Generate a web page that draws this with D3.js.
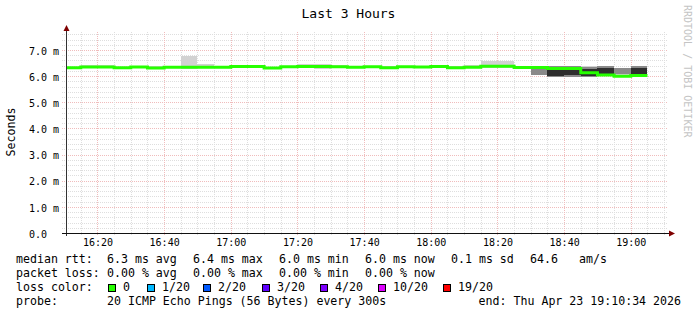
<!DOCTYPE html>
<html>
<head>
<meta charset="utf-8">
<script src="https://cdn.jsdelivr.net/npm/d3@7"></script>
<style>
  body { margin: 0; background: #fff; }
  svg { display: block; }
  text { font-family: "DejaVu Sans Mono", monospace; fill: #000; white-space: pre; }
</style>
</head>
<body>
<svg id="chart" width="697" height="315"></svg>
<script>
// 5-minute bins (bin start, local time)
const binStarts = ["16:10","16:15","16:20","16:25","16:30","16:35","16:40","16:45","16:50","16:55",
  "17:00","17:05","17:10","17:15","17:20","17:25","17:30","17:35","17:40","17:45",
  "17:50","17:55","18:00","18:05","18:10","18:15","18:20","18:25","18:30","18:35",
  "18:40","18:45","18:50","18:55","19:00"];

// median rtt (ms)
const medianMs = [6.32,6.35,6.35,6.32,6.35,6.31,6.34,6.34,6.34,6.34,
  6.37,6.37,6.31,6.36,6.37,6.37,6.36,6.34,6.36,6.32,
  6.36,6.35,6.37,6.32,6.34,6.38,6.38,6.33,6.33,6.29,
  6.29,6.13,6.04,6.00,6.02];

// smoke: full spread of the 20 pings (ms)
const smokeMinMs = [6.29,6.32,6.32,6.29,6.30,6.28,6.30,6.28,6.31,6.31,
  6.33,6.33,6.28,6.31,6.33,6.28,6.32,6.30,6.32,6.29,
  6.32,6.31,6.33,6.29,6.30,6.33,6.33,6.30,6.04,5.96,
  5.97,5.95,6.04,6.06,6.04];
const smokeMaxMs = [6.36,6.43,6.42,6.36,6.38,6.40,6.37,6.78,6.47,6.37,
  6.42,6.42,6.35,6.40,6.48,6.48,6.42,6.37,6.39,6.40,
  6.39,6.40,6.40,6.40,6.42,6.58,6.58,6.36,6.40,6.39,
  6.39,6.37,6.39,6.33,6.39];
// middle part of the spread
const smokeLoMs = [6.30,6.33,6.33,6.30,6.33,6.29,6.32,6.31,6.32,6.32,
  6.35,6.35,6.29,6.34,6.35,6.33,6.34,6.32,6.34,6.30,
  6.34,6.33,6.35,6.30,6.32,6.35,6.35,6.31,6.05,5.97,
  5.98,5.96,6.05,6.08,6.05];
const smokeHiMs = [6.34,6.37,6.37,6.34,6.37,6.33,6.36,6.40,6.37,6.36,
  6.39,6.39,6.33,6.38,6.40,6.40,6.38,6.36,6.38,6.35,
  6.38,6.37,6.39,6.35,6.37,6.44,6.44,6.35,6.31,6.38,
  6.38,6.36,6.38,6.31,6.38];
// core of the spread
const coreLoMs = [6.31,6.34,6.34,6.31,6.34,6.30,6.33,6.32,6.33,6.33,
  6.36,6.36,6.30,6.35,6.36,6.35,6.35,6.33,6.35,6.31,
  6.35,6.34,6.36,6.31,6.33,6.36,6.36,6.32,6.32,6.00,
  6.03,6.01,6.10,6.00,6.08];
const coreHiMs = [6.33,6.36,6.36,6.33,6.36,6.32,6.35,6.36,6.35,6.35,
  6.38,6.38,6.32,6.37,6.38,6.38,6.37,6.35,6.37,6.33,
  6.37,6.36,6.38,6.33,6.35,6.40,6.40,6.34,6.34,6.27,
  6.29,6.27,6.30,6.01,6.30];

const lossLabels = ["0","1/20","2/20","3/20","4/20","10/20","19/20"];
const lossColors = ["#26ff00","#00b8ff","#0059ff","#5e00ff","#7e00ff","#dd00ff","#ff0000"];

const legendRows = [
  ["median rtt:", "6.3 ms avg", "6.4 ms max", "6.0 ms min", "6.0 ms now", "0.1 ms sd", "64.6", "am/s"],
  ["packet loss:", "0.00 % avg", "0.00 % max", "0.00 % min", "0.00 % now"]
];
const probeText = "20 ICMP Echo Pings (56 Bytes) every 300s";
const endText = "end: Thu Apr 23 19:10:34 2026";

const svg = d3.select("#chart");
const parseHM = s => { const [h, m] = s.split(":").map(Number); return new Date(2026, 3, 23, h, m, 0); };
const tStart = new Date(2026, 3, 23, 16, 10, 34);
const tEnd = new Date(2026, 3, 23, 19, 10, 34);

const plotL = 66, plotR = 666, plotT = 33, plotB = 233;
const x = d3.scaleTime().domain([tStart, tEnd]).range([plotL, plotR]);
const y = d3.scaleLinear().domain([0, 7.65]).range([plotB, plotT]);

// title + labels
svg.append("text").attr("x", 348.5).attr("y", 18).attr("text-anchor", "middle")
  .style("font-size", "13px").text("Last 3 Hours");
svg.append("text").attr("transform", "translate(15,132) rotate(-90)").attr("text-anchor", "middle")
  .style("font-size", "11.6px").text("Seconds");
svg.append("text").attr("transform", "translate(684,5) rotate(90)")
  .style("font-size", "10px").style("fill", "#c4c4c4").text("RRDTOOL / TOBI OETIKER");

// grid
const gGrid = svg.append("g").attr("shape-rendering", "crispEdges");
const isMajor = v => Math.abs(v - Math.round(v)) < 1e-6;
const minorCol = "#dedede", majorCol = "#f0bcbc";
y.ticks(38).filter(v => v > 0).forEach(v => {
  gGrid.append("line").attr("x1", 62).attr("x2", plotR + 1)
    .attr("y1", Math.round(y(v)) + 0.5).attr("y2", Math.round(y(v)) + 0.5)
    .attr("stroke", isMajor(v) ? majorCol : minorCol).attr("stroke-dasharray", "1,1");
});
x.ticks(d3.timeMinute.every(5)).forEach(t => {
  const major = t.getMinutes() % 20 === 0;
  gGrid.append("line").attr("y1", plotT - 1).attr("y2", plotB + (major ? 3 : 2))
    .attr("x1", Math.round(x(t)) + 0.5).attr("x2", Math.round(x(t)) + 0.5)
    .attr("stroke", major ? majorCol : minorCol).attr("stroke-dasharray", "1,1");
});

// smoke
const binEnd = s => new Date(parseHM(s).getTime() + 300000);
const gSmoke = svg.append("g").attr("shape-rendering", "crispEdges");
[[smokeMinMs, smokeMaxMs, "#d2d2d2"], [smokeLoMs, smokeHiMs, "#8a8a8a"], [coreLoMs, coreHiMs, "#2e2e2e"]]
  .forEach(([lo, hi, col]) => {
    gSmoke.append("g").selectAll("rect").data(binStarts).join("rect")
      .attr("x", d => Math.max(plotL, x(parseHM(d))))
      .attr("width", d => x(binEnd(d)) - Math.max(plotL, x(parseHM(d))))
      .attr("y", (d, i) => y(hi[i]))
      .attr("height", (d, i) => Math.max(0, y(lo[i]) - y(hi[i])))
      .attr("fill", col);
  });

// median line
const pts = [];
binStarts.forEach((d, i) => {
  pts.push([Math.max(plotL, x(parseHM(d))), y(medianMs[i])]);
  pts.push([x(binEnd(d)), y(medianMs[i])]);
});
svg.append("path").attr("d", d3.line()(pts)).attr("fill", "none")
  .attr("stroke", lossColors[0]).attr("stroke-width", 3);

// axes
const gy = svg.append("g").attr("transform", `translate(${plotL},0)`)
  .call(d3.axisLeft(y).tickValues(d3.range(0, 8)).tickSize(0)
    .tickFormat(v => v === 0 ? "0.0" : v.toFixed(1) + " m"));
gy.select(".domain").remove();
gy.selectAll("text").attr("x", 29 - plotL).attr("text-anchor", "start").attr("dy", "0.42em")
  .attr("fill", "#000").style("font-family", "DejaVu Sans Mono").style("font-size", "10px");

const gx = svg.append("g").attr("transform", `translate(0,${plotB})`)
  .call(d3.axisBottom(x).ticks(d3.timeMinute.every(20)).tickSize(0).tickFormat(d3.timeFormat("%H:%M")));
gx.select(".domain").remove();
gx.selectAll("text").attr("y", 6).attr("dy", "0.71em")
  .attr("fill", "#000").style("font-family", "DejaVu Sans Mono").style("font-size", "10px");

svg.append("line").attr("x1", plotL + 0.5).attr("x2", plotL + 0.5).attr("y1", plotB + 3).attr("y2", 30)
  .attr("stroke", "#333").attr("shape-rendering", "crispEdges");
svg.append("line").attr("x1", 62).attr("x2", 670).attr("y1", plotB + 0.5).attr("y2", plotB + 0.5)
  .attr("stroke", "#111").attr("shape-rendering", "crispEdges");
svg.append("path").attr("d", `M${plotL - 2.5},31 L${plotL + 0.5},25 L${plotL + 3.5},31 Z`).attr("fill", "#7f0000");
svg.append("path").attr("d", `M669,${plotB - 2.5} L675,${plotB + 0.5} L669,${plotB + 3.5} Z`).attr("fill", "#7f0000");

// legend
const fs = "11.6px";
const colX = [16, 107, 193, 279, 365, 451, 530, 579];
legendRows.forEach((row, r) => {
  row.forEach((t, j) => {
    svg.append("text").attr("x", colX[j]).attr("y", 263 + r * 14).style("font-size", fs).text(t);
  });
});
svg.append("text").attr("x", 16).attr("y", 291).style("font-size", fs).text("loss color:");
const boxX = [108, 147, 203, 262, 320, 378, 443];
lossLabels.forEach((l, i) => {
  svg.append("rect").attr("x", boxX[i] + 0.5).attr("y", 284.5).attr("width", 7).attr("height", 7)
    .attr("fill", lossColors[i]).attr("stroke", "#000").attr("stroke-width", 1);
  svg.append("text").attr("x", boxX[i] + 15).attr("y", 291).style("font-size", fs).text(l);
});
svg.append("text").attr("x", 16).attr("y", 305).style("font-size", fs).text("probe:");
svg.append("text").attr("x", 107).attr("y", 305).style("font-size", fs).text(probeText);
svg.append("text").attr("x", 681).attr("y", 305).attr("text-anchor", "end").style("font-size", fs).text(endText);
</script>
</body>
</html>
